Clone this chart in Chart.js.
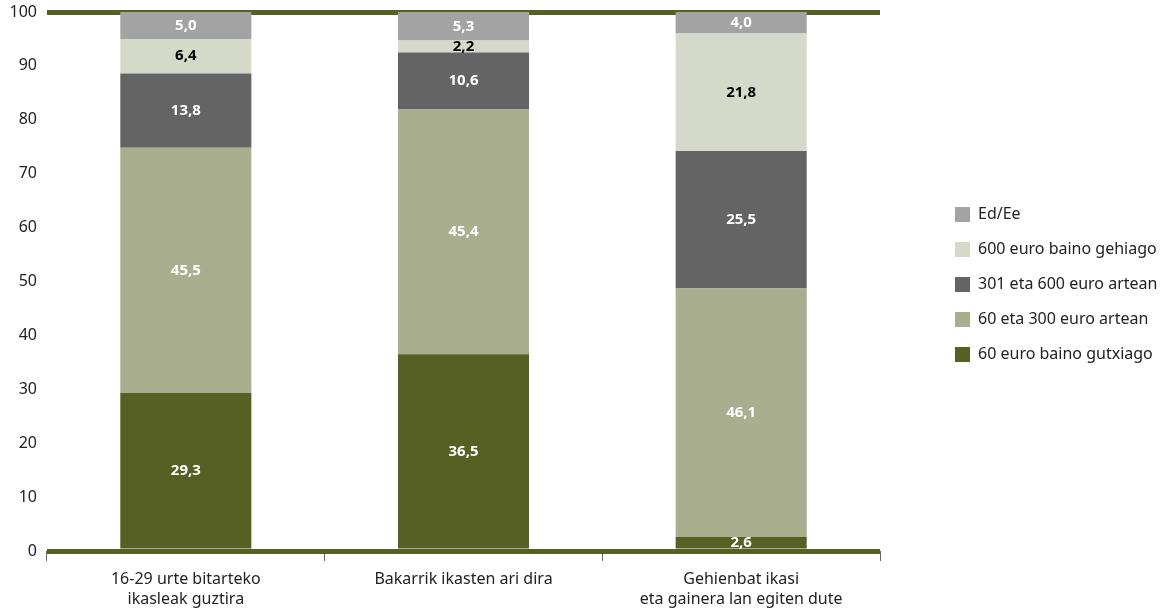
<!DOCTYPE html>
<html>
<head>
<meta charset="utf-8">
<script src="https://cdn.jsdelivr.net/npm/chart.js@4"></script>
<style>
  html, body { margin: 0; padding: 0; background: #fff; }
  #wrap { width: 1176px; height: 609px; position: relative; }
</style>
</head>
<body>
<div id="wrap"><canvas id="c"></canvas></div>
<script>
// datos (porcentajes)
const categories = [["16-29 urte bitarteko", "ikasleak guztira"], "Bakarrik ikasten ari dira", ["Gehienbat ikasi", "eta gainera lan egiten dute"]];
const seriesNames = ["60 euro baino gutxiago", "60 eta 300 euro artean", "301 eta 600 euro artean", "600 euro baino gehiago", "Ed/Ee"];
const lt60 = [29.3, 36.5, 2.6];
const from60to300 = [45.5, 45.4, 46.1];
const from301to600 = [13.8, 10.6, 25.5];
const gt600 = [6.4, 2.2, 21.8];
const eded = [5.0, 5.3, 4.0];
const yTicks = [0, 10, 20, 30, 40, 50, 60, 70, 80, 90, 100];

const OLIVE = "#566023";
const colors = [OLIVE, "#a9ae8f", "#646464", "#d5d9c9", "#a3a3a3"];
const labelColors = ["#fff", "#fff", "#fff", "#000", "#fff"];
const FONT = "'Noto Sans', 'Open Sans', sans-serif";

// etiquetas de valor centradas en cada segmento
const valueLabels = {
  id: "valueLabels",
  afterDatasetsDraw(chart) {
    const ctx = chart.ctx;
    ctx.save();
    ctx.font = "bold 15px " + FONT;
    ctx.textAlign = "center";
    ctx.textBaseline = "middle";
    chart.data.datasets.forEach((ds, i) => {
      chart.getDatasetMeta(i).data.forEach((bar, j) => {
        const y = (bar.y + bar.base) / 2;
        ctx.fillStyle = labelColors[i];
        ctx.fillText(ds.data[j].toFixed(1).replace(".", ","), bar.x, y);
      });
    });
    ctx.restore();
  },
};

// leyenda fija a la derecha, desplazada como en el original
const legendPlace = {
  id: "legendPlace",
  beforeInit(chart) {
    const fit = chart.legend.fit;
    chart.legend.fit = function () { fit.call(this); this.width = 296; };
  },
  afterLayout(chart) {
    chart.legend.left += 56;
    chart.legend.right += 56;
    chart.legend.top -= 26;
    chart.legend.bottom -= 26;
  },
};

const datasets = [lt60, from60to300, from301to600, gt600, eded].map((d, i) => ({
  label: seriesNames[i], data: d, backgroundColor: colors[i], borderWidth: 0,
  categoryPercentage: 1, barPercentage: 0.472,
}));

new Chart(document.getElementById("c"), {
  type: "bar",
  data: { labels: categories, datasets },
  plugins: [valueLabels, legendPlace],
  options: {
    responsive: true, maintainAspectRatio: false, animation: false,
    layout: { padding: { top: 12, right: 0, left: 0, bottom: 0 } },
    plugins: {
      legend: {
        position: "right", reverse: true,
        labels: { boxWidth: 15, boxHeight: 15, padding: 19, color: "#222", font: { size: 16, family: FONT } },
      },
      tooltip: { enabled: false },
    },
    scales: {
      x: {
        stacked: true,
        grid: { offset: true, drawOnChartArea: false, drawTicks: true, tickLength: 10, color: "#666", lineWidth: 1 },
        border: { display: false },
        ticks: { color: "#222", font: { size: 16, family: FONT, lineHeight: 1.25 }, padding: 8, maxRotation: 0 },
        afterFit(s) { s.height = 58; },
      },
      y: {
        stacked: true, min: 0, max: 100,
        afterBuildTicks(s) { s.ticks = yTicks.map((v) => ({ value: v })); },
        grid: {
          drawTicks: false,
          color: (c) => (c.tick && (c.tick.value === 0 || c.tick.value === 100) ? OLIVE : "rgba(0,0,0,0)"),
          lineWidth: (c) => (c.tick && (c.tick.value === 0 || c.tick.value === 100) ? 5 : 0),
        },
        border: { display: false },
        ticks: { color: "#222", font: { size: 16, family: FONT }, padding: 10 },
        afterFit(s) { s.width = 47; s.paddingTop = 0; s.paddingBottom = 0; },
      },
    },
  },
});
</script>
</body>
</html>
